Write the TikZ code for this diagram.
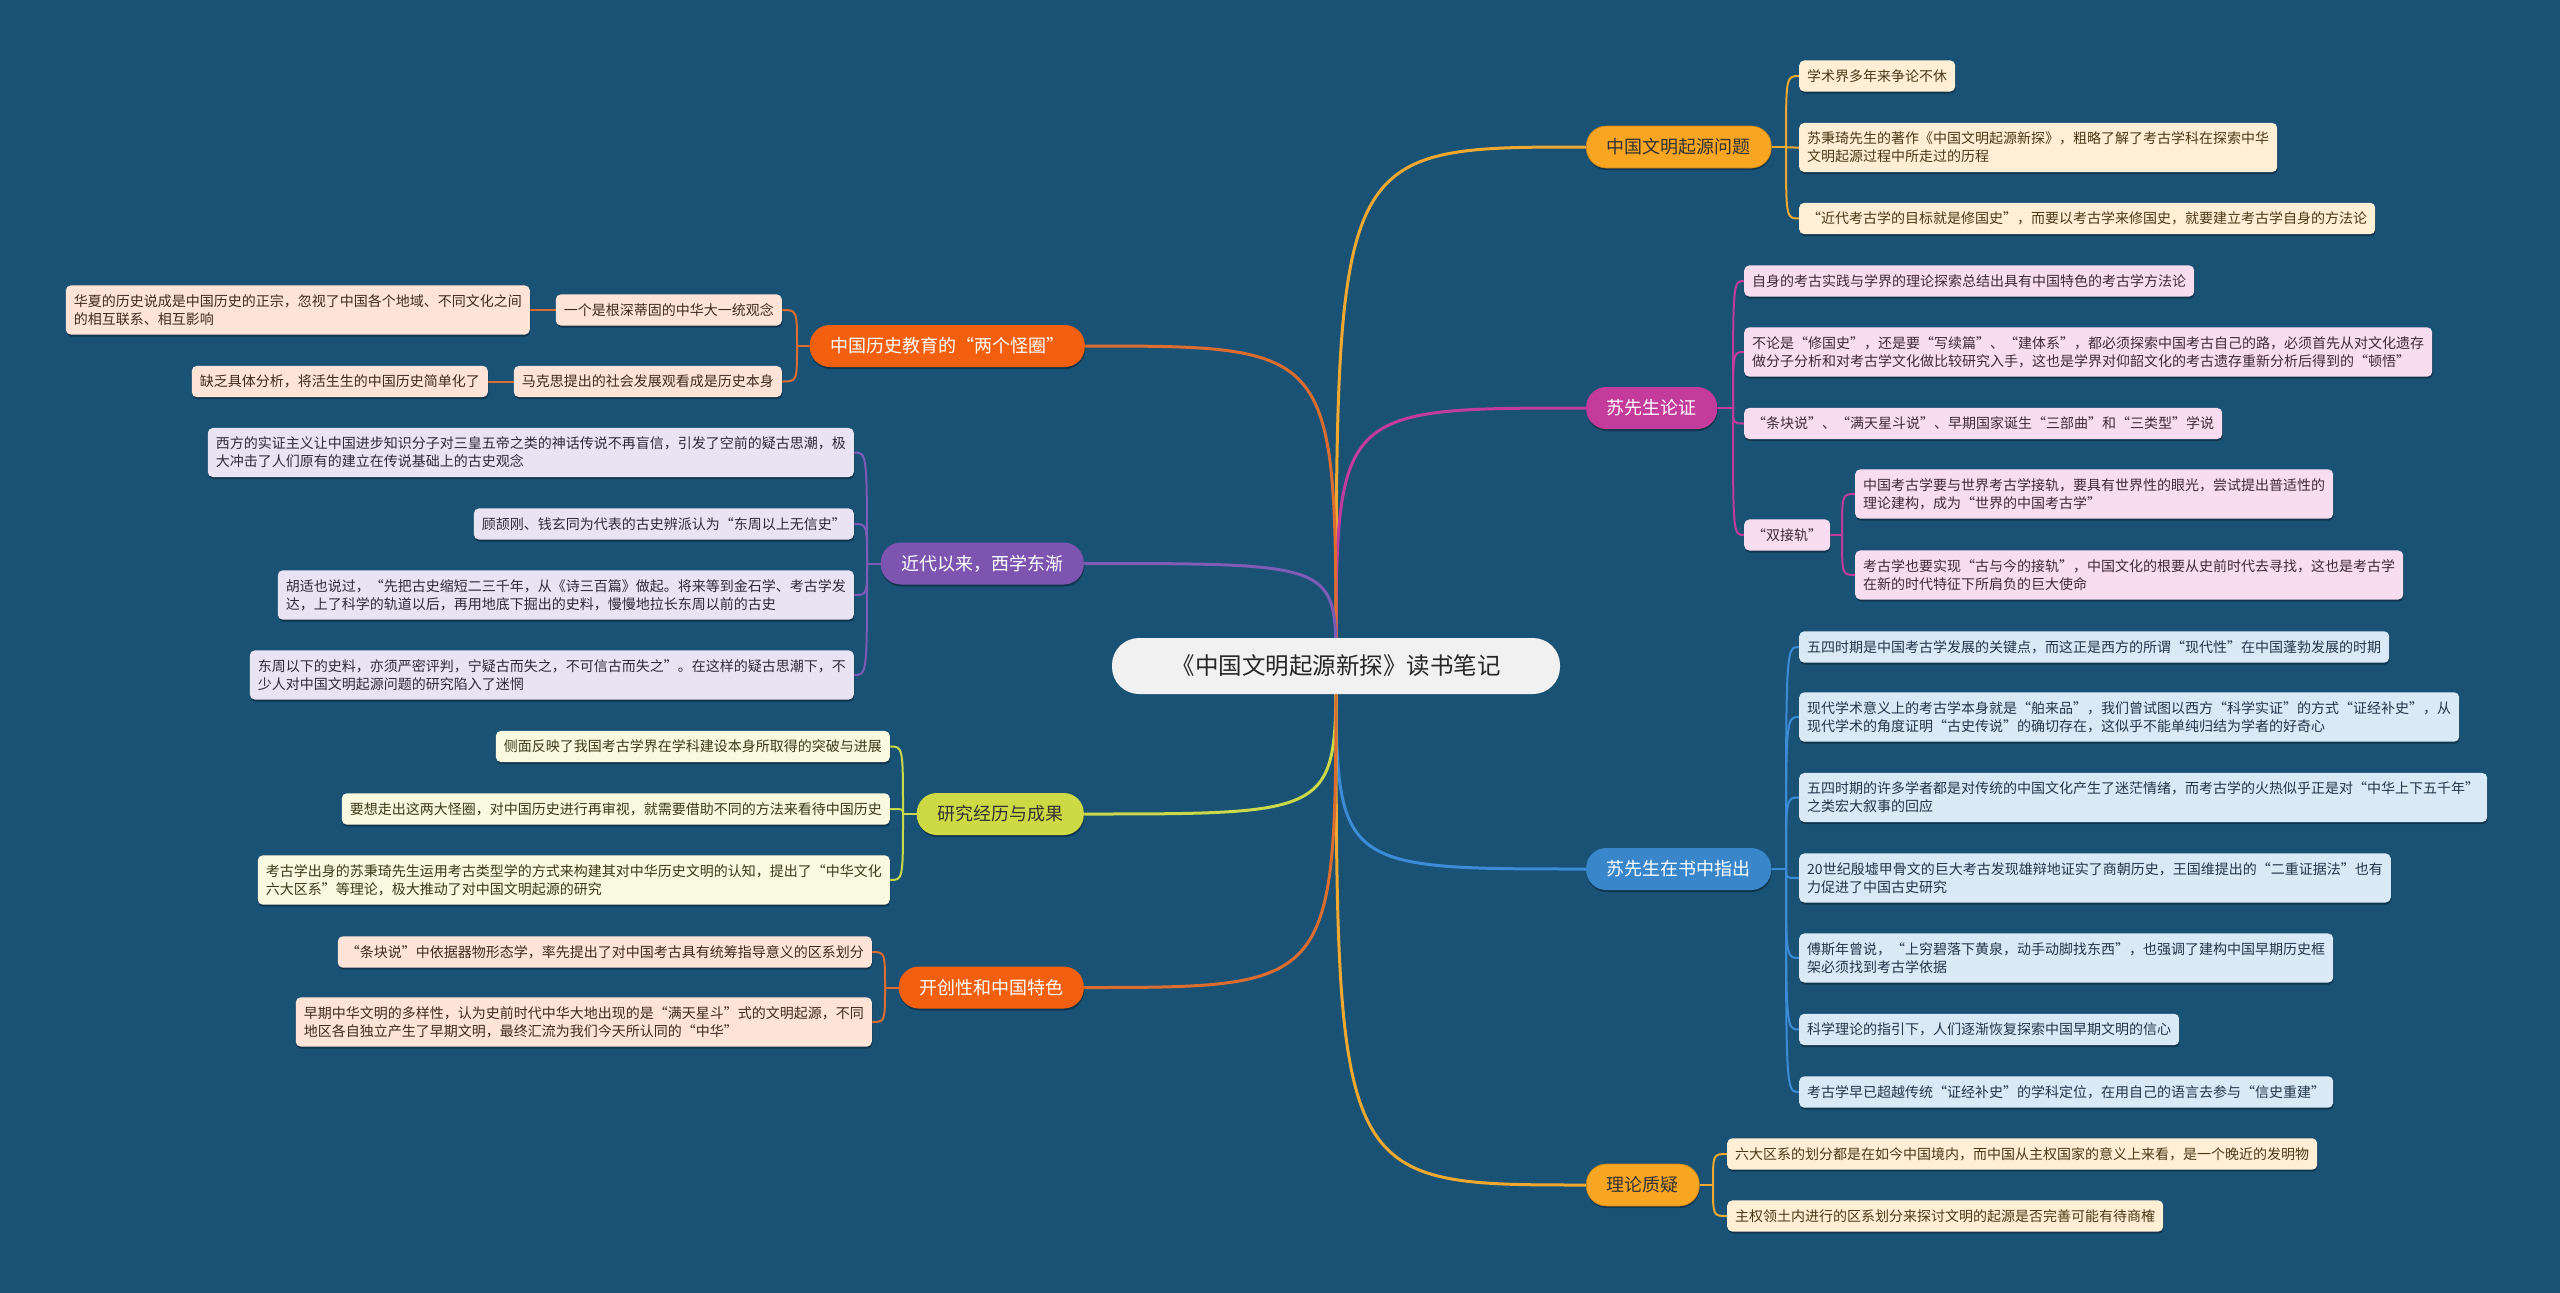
\documentclass[tikz,border=0pt]{standalone}
\usepackage{fontspec}
\setmainfont{Noto Sans CJK SC}
\usetikzlibrary{shadows}
\pgfdeclarelayer{bglayer}
\pgfdeclarelayer{linelayer}
\pgfsetlayers{bglayer,linelayer,main}
\definecolor{bgc}{HTML}{1A5276}
\definecolor{rootc}{HTML}{F1F1F1}
\definecolor{orgc}{HTML}{F8A521}
\definecolor{orgl}{HTML}{F0A82E}
\definecolor{creamc}{HTML}{FFF0D5}
\definecolor{creamt}{HTML}{4A3816}
\definecolor{magc}{HTML}{C33C9C}
\definecolor{magl}{HTML}{C23C9D}
\definecolor{pinkc}{HTML}{F8DDF0}
\definecolor{pinkt}{HTML}{3E2A38}
\definecolor{bluc}{HTML}{3A86CB}
\definecolor{blul}{HTML}{3C8BD6}
\definecolor{lbluc}{HTML}{D9E9F6}
\definecolor{lblut}{HTML}{22364A}
\definecolor{redc}{HTML}{F2600F}
\definecolor{redl}{HTML}{DC6D2E}
\definecolor{peachc}{HTML}{FDE4D6}
\definecolor{peacht}{HTML}{3E2A20}
\definecolor{purc}{HTML}{7D55B0}
\definecolor{purl}{HTML}{7E5BB5}
\definecolor{lavc}{HTML}{E9E3F3}
\definecolor{lavt}{HTML}{2F2A3B}
\definecolor{ygc}{HTML}{CEDA45}
\definecolor{ygl}{HTML}{CAD94A}
\definecolor{lyc}{HTML}{F9F9DF}
\definecolor{lyt}{HTML}{3A3A1A}
\tikzset{
  shd/.style={drop shadow={shadow xshift=0.5pt,shadow yshift=-2pt,opacity=0.35,fill=black}},
  leaf/.style={shd,rounded corners=5pt,inner xsep=8pt,inner ysep=9pt,align=left,
    font=\fontsize{14}{18}\selectfont},
  lfR/.style={leaf,anchor=west},
  lfL/.style={leaf,anchor=east},
  branch/.style={shd,rounded corners=20pt,minimum height=42pt,inner xsep=20.5pt,inner ysep=0pt,
    font=\fontsize{18}{22}\selectfont},
  brR/.style={branch,anchor=west},
  brL/.style={branch,anchor=east},
  rootbox/.style={fill=rootc,text=black!85,rounded corners=27pt,minimum height=56pt,
    minimum width=448pt,inner sep=0pt,font=\fontsize{23.5}{28}\selectfont},
  trunk/.style={line width=3pt},
  twig/.style={line width=2pt},
  cream/.style={fill=creamc,text=creamt},
  pink/.style={fill=pinkc,text=pinkt},
  lblu/.style={fill=lbluc,text=lblut},
  peach/.style={fill=peachc,text=peacht},
  lav/.style={fill=lavc,text=lavt},
  ly/.style={fill=lyc,text=lyt},
}
\newcommand\jr[3][]{\draw[twig,#1] (#2) .. controls (#2 |- #3.west) .. (#3.west);}
\newcommand\jl[3][]{\draw[twig,#1] (#2) .. controls (#2 |- #3.east) .. (#3.east);}
\begin{document}
\begin{tikzpicture}[x=1pt,y=-1pt]
\begin{pgfonlayer}{bglayer}
\fill[bgc] (0,0) rectangle (2560,1293);
\end{pgfonlayer}
\useasboundingbox (0,0) rectangle (2560,1293);

% root
\node[rootbox] (root) at (1336,666) {《中国文明起源新探》读书笔记};

% ---------- right side ----------
\node[brR,fill=orgc,text=black!80,draw=orgc!80!black,line width=0.6pt] (b1) at (1586,147) {中国文明起源问题};
\node[lfR,cream] (l1a) at (1799,76) {学术界多年来争论不休};
\node[lfR,cream] (l1b) at (1799,147.5) {苏秉琦先生的著作《中国文明起源新探》，粗略了解了考古学科在探索中华\\文明起源过程中所走过的历程};
\node[lfR,cream] (l1c) at (1799,218.5) {“近代考古学的目标就是修国史”，而要以考古学来修国史，就要建立考古学自身的方法论};
\coordinate (j1) at (1786,147);

\node[brR,fill=magc,text=white] (b2) at (1586,408) {苏先生论证};
\node[lfR,pink] (l2a) at (1744,281) {自身的考古实践与学界的理论探索总结出具有中国特色的考古学方法论};
\node[lfR,pink] (l2b) at (1744,352) {不论是“修国史”，还是要“写续篇”、“建体系”，都必须探索中国考古自己的路，必须首先从对文化遗存\\做分子分析和对考古学文化做比较研究入手，这也是学界对仰韶文化的考古遗存重新分析后得到的“顿悟”};
\node[lfR,pink] (l2c) at (1744,423.5) {“条块说”、“满天星斗说”、早期国家诞生“三部曲”和“三类型”学说};
\node[lfR,pink] (l2d) at (1744,535) {“双接轨”};
\node[lfR,pink] (l2e) at (1855,494) {中国考古学要与世界考古学接轨，要具有世界性的眼光，尝试提出普适性的\\理论建构，成为“世界的中国考古学”};
\node[lfR,pink] (l2f) at (1855,575) {考古学也要实现“古与今的接轨”，中国文化的根要从史前时代去寻找，这也是考古学\\在新的时代特征下所肩负的巨大使命};
\coordinate (j2) at (1733,408);
\coordinate (j2d) at (1842,535);

\node[brR,fill=bluc,text=white] (b3) at (1586,869) {苏先生在书中指出};
\node[lfR,lblu] (l3a) at (1799,647) {五四时期是中国考古学发展的关键点，而这正是西方的所谓“现代性”在中国蓬勃发展的时期};
\node[lfR,lblu] (l3b) at (1799,717) {现代学术意义上的考古学本身就是“舶来品”，我们曾试图以西方“科学实证”的方式“证经补史”，从\\现代学术的角度证明“古史传说”的确切存在，这似乎不能单纯归结为学者的好奇心};
\node[lfR,lblu] (l3c) at (1799,797.5) {五四时期的许多学者都是对传统的中国文化产生了迷茫情绪，而考古学的火热似乎正是对“中华上下五千年”\\之类宏大叙事的回应};
\node[lfR,lblu] (l3d) at (1799,878) {20世纪殷墟甲骨文的巨大考古发现雄辩地证实了商朝历史，王国维提出的“二重证据法”也有\\力促进了中国古史研究};
\node[lfR,lblu] (l3e) at (1799,958) {傅斯年曾说，“上穷碧落下黄泉，动手动脚找东西”，也强调了建构中国早期历史框\\架必须找到考古学依据};
\node[lfR,lblu] (l3f) at (1799,1029.5) {科学理论的指引下，人们逐渐恢复探索中国早期文明的信心};
\node[lfR,lblu] (l3g) at (1799,1092) {考古学早已超越传统“证经补史”的学科定位，在用自己的语言去参与“信史重建”};
\coordinate (j3) at (1786,869);

\node[brR,fill=orgc,text=black!80,draw=orgc!80!black,line width=0.6pt] (b4) at (1586,1185) {理论质疑};
\node[lfR,cream] (l4a) at (1727,1154) {六大区系的划分都是在如今中国境内，而中国从主权国家的意义上来看，是一个晚近的发明物};
\node[lfR,cream] (l4b) at (1727,1216) {主权领土内进行的区系划分来探讨文明的起源是否完善可能有待商榷};
\coordinate (j4) at (1713,1185);

% ---------- left side ----------
\node[brL,fill=redc,text=white] (b5) at (1085,346) {中国历史教育的“两个怪圈”};
\node[lfL,peach] (l5a) at (782,310) {一个是根深蒂固的中华大一统观念};
\node[lfL,peach] (l5c) at (530,310) {华夏的历史说成是中国历史的正宗，忽视了中国各个地域、不同文化之间\\的相互联系、相互影响};
\node[lfL,peach] (l5b) at (782,381.5) {马克思提出的社会发展观看成是历史本身};
\node[lfL,peach] (l5d) at (488,381.5) {缺乏具体分析，将活生生的中国历史简单化了};
\coordinate (j5) at (797,346);

\node[brL,fill=purc,text=white] (b6) at (1084,563.5) {近代以来，西学东渐};
\node[lfL,lav] (l6a) at (854,452.5) {西方的实证主义让中国进步知识分子对三皇五帝之类的神话传说不再盲信，引发了空前的疑古思潮，极\\大冲击了人们原有的建立在传说基础上的古史观念};
\node[lfL,lav] (l6b) at (854,524) {顾颉刚、钱玄同为代表的古史辨派认为“东周以上无信史”};
\node[lfL,lav] (l6c) at (854,595) {胡适也说过，“先把古史缩短二三千年，从《诗三百篇》做起。将来等到金石学、考古学发\\达，上了科学的轨道以后，再用地底下掘出的史料，慢慢地拉长东周以前的古史};
\node[lfL,lav] (l6d) at (854,675) {东周以下的史料，亦须严密评判，宁疑古而失之，不可信古而失之”。在这样的疑古思潮下，不\\少人对中国文明起源问题的研究陷入了迷惘};
\coordinate (j6) at (867,563.5);

\node[brL,fill=ygc,text=black!80] (b7) at (1084,814) {研究经历与成果};
\node[lfL,ly] (l7a) at (890,746.5) {侧面反映了我国考古学界在学科建设本身所取得的突破与进展};
\node[lfL,ly] (l7b) at (890,809) {要想走出这两大怪圈，对中国历史进行再审视，就需要借助不同的方法来看待中国历史};
\node[lfL,ly] (l7c) at (890,880) {考古学出身的苏秉琦先生运用考古类型学的方式来构建其对中华历史文明的认知，提出了“中华文化\\六大区系”等理论，极大推动了对中国文明起源的研究};
\coordinate (j7) at (903,814);

\node[brL,fill=redc,text=white] (b8) at (1084,987.5) {开创性和中国特色};
\node[lfL,peach] (l8a) at (872,952) {“条块说”中依据器物形态学，率先提出了对中国考古具有统筹指导意义的区系划分};
\node[lfL,peach] (l8b) at (872,1022) {早期中华文明的多样性，认为史前时代中华大地出现的是“满天星斗”式的文明起源，不同\\地区各自独立产生了早期文明，最终汇流为我们今天所认同的“中华”};
\coordinate (j8) at (885,987.5);

% ---------- connectors ----------
\begin{pgfonlayer}{linelayer}
\draw[trunk,orgl] (root.center) .. controls (root.center |- b1.west) .. (b1.west);
\draw[trunk,magl] (root.center) .. controls (root.center |- b2.west) .. (b2.west);
\draw[trunk,blul] (root.center) .. controls (root.center |- b3.west) .. (b3.west);
\draw[trunk,orgl] (root.center) .. controls (root.center |- b4.west) .. (b4.west);
\draw[trunk,redl] (root.center) .. controls (root.center |- b5.east) .. (b5.east);
\draw[trunk,purl] (root.center) .. controls (root.center |- b6.east) .. (b6.east);
\draw[trunk,ygl] (root.center) .. controls (root.center |- b7.east) .. (b7.east);
\draw[trunk,redl] (root.center) .. controls (root.center |- b8.east) .. (b8.east);

\draw[twig,orgl] (b1.east) -- (j1);
\jr[orgl]{j1}{l1a}\jr[orgl]{j1}{l1b}\jr[orgl]{j1}{l1c}
\draw[twig,magl] (b2.east) -- (j2);
\jr[magl]{j2}{l2a}\jr[magl]{j2}{l2b}\jr[magl]{j2}{l2c}\jr[magl]{j2}{l2d}
\draw[twig,magl] (l2d.east) -- (j2d);
\jr[magl]{j2d}{l2e}\jr[magl]{j2d}{l2f}
\draw[twig,blul] (b3.east) -- (j3);
\jr[blul]{j3}{l3a}\jr[blul]{j3}{l3b}\jr[blul]{j3}{l3c}\jr[blul]{j3}{l3d}
\jr[blul]{j3}{l3e}\jr[blul]{j3}{l3f}\jr[blul]{j3}{l3g}
\draw[twig,orgl] (b4.east) -- (j4);
\jr[orgl]{j4}{l4a}\jr[orgl]{j4}{l4b}

\draw[twig,redl] (b5.west) -- (j5);
\jl[redl]{j5}{l5a}\jl[redl]{j5}{l5b}
\draw[twig,redl] (l5a.west) -- (l5c.east);
\draw[twig,redl] (l5b.west) -- (l5d.east);
\draw[twig,purl] (b6.west) -- (j6);
\jl[purl]{j6}{l6a}\jl[purl]{j6}{l6b}\jl[purl]{j6}{l6c}\jl[purl]{j6}{l6d}
\draw[twig,ygl] (b7.west) -- (j7);
\jl[ygl]{j7}{l7a}\jl[ygl]{j7}{l7b}\jl[ygl]{j7}{l7c}
\draw[twig,redl] (b8.west) -- (j8);
\jl[redl]{j8}{l8a}\jl[redl]{j8}{l8b}
\end{pgfonlayer}
\end{tikzpicture}
\end{document}
